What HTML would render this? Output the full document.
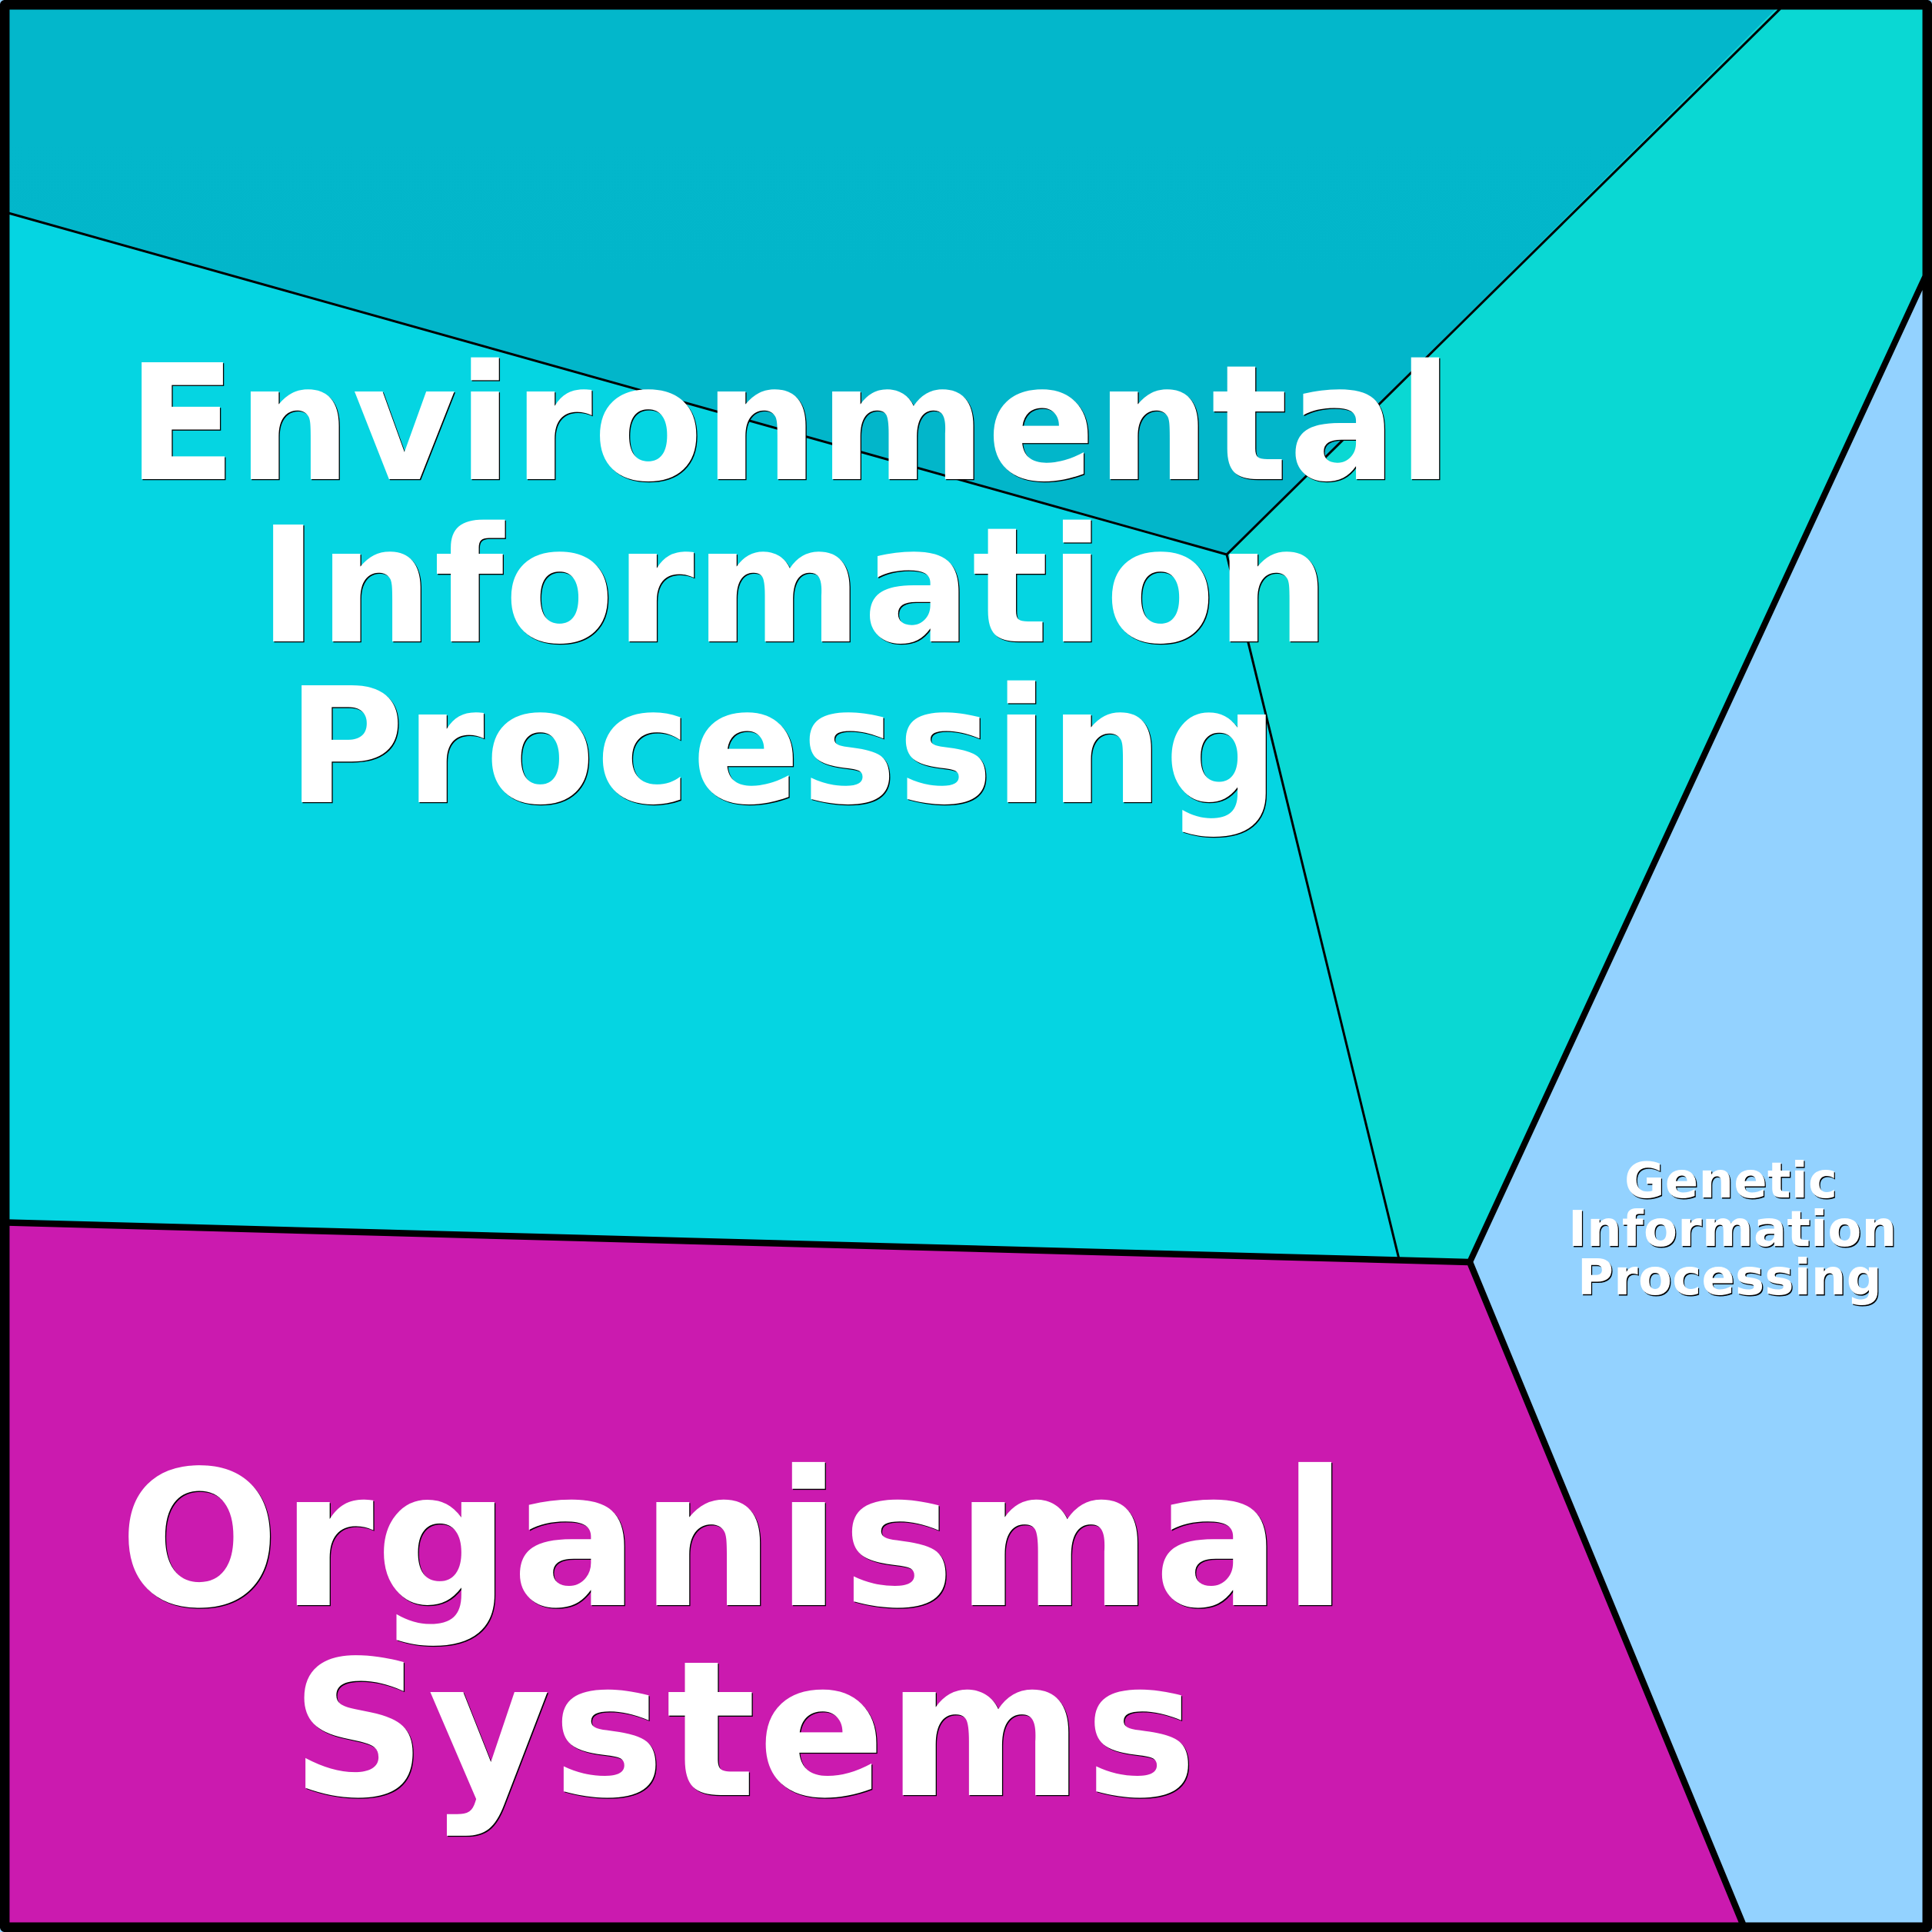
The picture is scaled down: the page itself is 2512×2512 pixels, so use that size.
<!DOCTYPE html>
<html>
<head>
<meta charset="utf-8">
<style>
html,body{margin:0;padding:0;background:#fff}
#c{position:relative;width:2512px;height:2512px;overflow:hidden}
svg{position:absolute;left:0;top:0}
.t{position:absolute;white-space:nowrap;font-family:"DejaVu Sans",sans-serif;font-weight:bold;color:#fff;line-height:1;transform-origin:0 0}
.a{font-size:208.5px;letter-spacing:1px;text-shadow:1.3px 1.3px 0 #000}
.b{font-size:245px;letter-spacing:2px;text-shadow:1.3px 1.3px 0 #000}
.g{font-size:64px;letter-spacing:.25px;text-shadow:1.3px 1.3px 0 #000}
</style>
</head>
<body>
<div id="c">
<svg width="2512" height="2512" viewBox="0 0 2512 2512">
<defs>
<linearGradient id="top" x1="0" y1="0" x2="0" y2="1"><stop offset="0" stop-color="#03b7cb"/><stop offset="1" stop-color="#02b6ca"/></linearGradient>
</defs>
<rect width="2512" height="2512" fill="#93d2ff"/>
<polygon points="6,6 2315,6 1595,721 6,277" fill="url(#top)"/>
<polygon points="6,277 1595,721 1819,1637 6,1589" fill="#05d5e2"/>
<polygon points="2315,6 2506,6 2506,362 1911,1641 1819,1637 1595,721" fill="#0ad8d3"/>
<polygon points="6,1589 1911,1641 2267,2506 6,2506" fill="#cb1aaf"/>
<g fill="none" stroke="#000" stroke-linejoin="round">
<polyline points="2315,11 1595,721 11,277" stroke-width="3"/>
<line x1="1595" y1="721" x2="1819" y2="1637" stroke-width="3"/>
<polyline points="8,1589.5 1911,1641 2267,2504" stroke-width="8.5"/>
<line x1="1911" y1="1641" x2="2504" y2="358" stroke-width="8"/>
<rect x="6.2" y="6.2" width="2499.6" height="2499.6" stroke-width="12.5"/>
</g>
</svg>
<div class="t a" style="left:165px;top:448px">Environmental</div>
<div class="t a" style="left:336px;top:659px">Information</div>
<div class="t a" style="left:373px;top:868px">Processing</div>
<div class="t b" style="left:155px;top:1880px">Organismal</div>
<div class="t b" style="left:378px;top:2127px">Systems</div>
<div class="t g" style="left:2112px;top:1504px">Genetic</div>
<div class="t g" style="left:2039px;top:1567px">Information</div>
<div class="t g" style="left:2051px;top:1630px">Processing</div>
</div>
</body>
</html>
